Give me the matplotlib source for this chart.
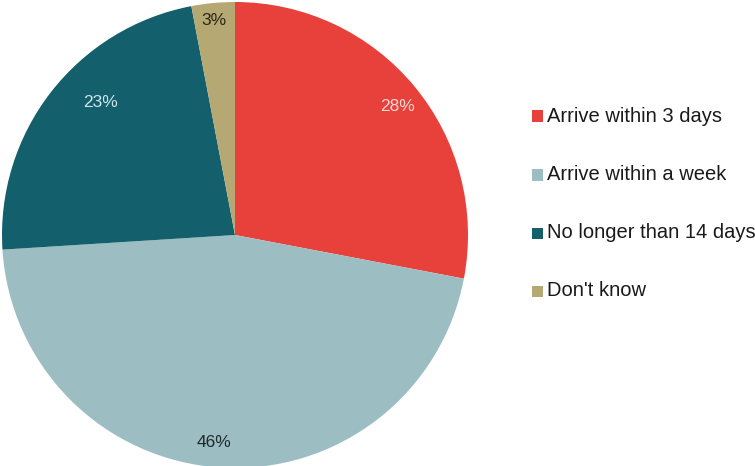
import matplotlib
matplotlib.use("Agg")
import matplotlib.pyplot as plt
from matplotlib.patches import Rectangle
import numpy as np

plt.rcParams['font.family'] = ['Liberation Sans', 'DejaVu Sans']

categories = ["Arrive within 3 days", "Arrive within a week", "No longer than 14 days", "Don't know"]
shares = [28, 46, 23, 3]
colors = ["#E8403A", "#9CBEC3", "#135F6B", "#B6A872"]
label_colors = ["#F8DAD4", "#1F2A2C", "#CFE6EA", "#2A2618"]

W, H = 755, 466
fig = plt.figure(figsize=(W / 100, H / 100), dpi=100)
fig.patch.set_facecolor("white")

# pie axes: circle centred at (235, 235) px with radius 233 px
cx, cy, r = 235, 235, 233
ax = fig.add_axes([(cx - r) / W, (H - cy - r) / H, 2 * r / W, 2 * r / H])
wedges, _ = ax.pie(shares, colors=colors, startangle=90, counterclock=False,
                   radius=1.0, wedgeprops=dict(linewidth=0))
ax.set_xlim(-1, 1)
ax.set_ylim(-1, 1)
ax.set_aspect("auto")
ax.axis("off")

# percentage labels: radial distance and angular nudge (degrees) per wedge
label_dist = [0.889, 0.897, 0.81, 0.923]
label_nudge = [-1.2, -2.2, -6.8, 0.2]
for w, s, d, dn, c in zip(wedges, shares, label_dist, label_nudge, label_colors):
    ang = np.deg2rad((w.theta1 + w.theta2) / 2 + dn)
    ax.text(d * np.cos(ang), d * np.sin(ang), f"{s}%", ha="center", va="center",
            fontsize=12.5, color=c)

# legend entries on the right
rows_y = [116, 175, 233, 291]
sq = 11
for name, c, y in zip(categories, colors, rows_y):
    fig.patches.append(Rectangle((532 / W, (H - y - sq / 2) / H), sq / W, sq / H,
                                 transform=fig.transFigure, facecolor=c, edgecolor="none"))
    fig.text(547 / W, (H - y) / H, name, ha="left", va="center", fontsize=14.5,
             color="#1a1a1a")

fig.savefig("out.png", dpi=100)
